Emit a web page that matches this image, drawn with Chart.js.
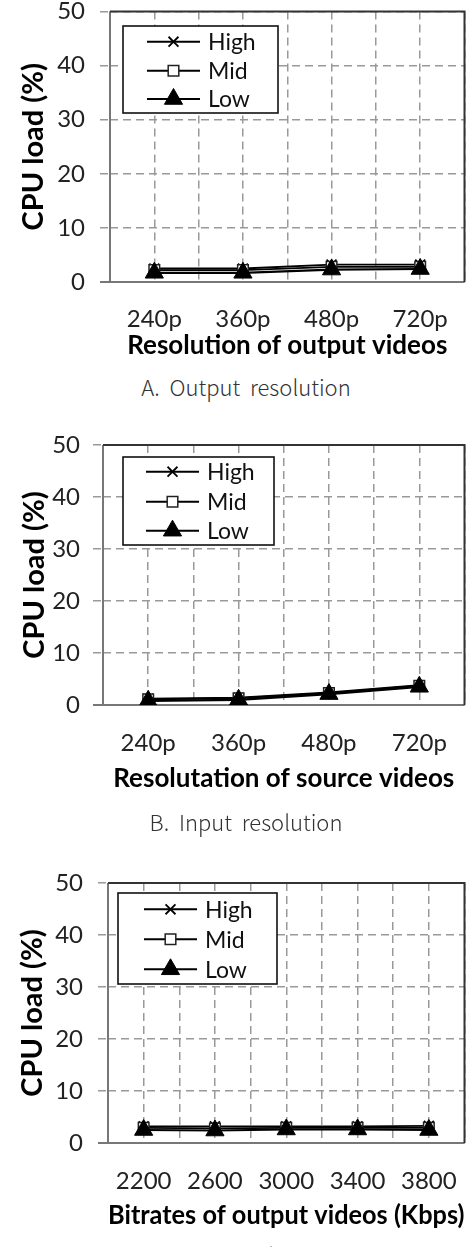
<!DOCTYPE html>
<html><head><meta charset="utf-8">
<script src="https://cdn.jsdelivr.net/npm/chart.js@4/dist/chart.umd.min.js"></script>
<style>
html,body{margin:0;padding:0;background:#fff;}
body{width:476px;height:1247px;overflow:hidden;position:relative;}
canvas{position:absolute;left:0;}
.cap{position:absolute;left:-4px;width:500px;text-align:center;font-family:"Noto Sans CJK KR";font-weight:300;font-size:22px;color:#333;white-space:pre;line-height:24px;}
</style></head><body>
<canvas id="cA" width="476" height="362" style="top:0px"></canvas>
<canvas id="cB" width="476" height="380" style="top:430px"></canvas>
<canvas id="cC" width="476" height="377" style="top:870px"></canvas>
<div class="cap" style="top:374px">A.  Output  resolution</div>
<div class="cap" style="top:809px">B.  Input  resolution</div>
<div class="cap" style="top:1242px">C.  Output  bitrate</div>
<script>
// ---- data ----
const seriesNames = ['High', 'Mid', 'Low'];
const catsA = ['240p', '360p', '480p', '720p'];
const highA = [2.5, 2.5, 3.2, 3.2];
const midA  = [2.2, 2.2, 2.8, 2.8];
const lowA  = [1.7, 1.7, 2.3, 2.4];
const catsB = ['240p', '360p', '480p', '720p'];
const highB = [1.2, 1.4, 2.4, 3.8];
const midB  = [1.1, 1.3, 2.3, 3.7];
const lowB  = [0.8, 1.0, 2.1, 3.5];
const catsC = ['2200', '2600', '3000', '3400', '3800'];
const highC = [3.2, 3.2, 3.2, 3.2, 3.3];
const midC  = [2.9, 2.8, 2.9, 2.9, 2.9];
const lowC  = [2.5, 2.4, 2.6, 2.6, 2.5];
const yMin = 0, yMax = 50, yStep = 10;

// ---- styles ----
const styles = [
  {pointStyle: 'crossRot', radius: 7, bg: '#000', border: '#000', bw: 1.8, lw: 1.8, order: 2},
  {pointStyle: 'rect', radius: 7.5, bg: '#fff', border: '#222', bw: 1.5, lw: 1.8, order: 1},
  {pointStyle: 'triangle', radius: 10.5, bg: '#000', border: '#000', bw: 1, lw: 2.2, order: 0}
];
const TICK_FONT = 24, TITLE_FONT = 26, YTITLE_FONT = 29, LEGEND_FONT = 23;
const FONT = 'Lato';

function drawMarker(ctx, st, x, y) {
  ctx.fillStyle = st.bg; ctx.strokeStyle = st.border; ctx.lineWidth = st.bw;
  if (Chart.helpers && Chart.helpers.drawPoint) {
    Chart.helpers.drawPoint(ctx, {pointStyle: st.pointStyle, radius: st.radius, rotation: 0, borderWidth: st.bw}, x, y);
  }
}

const framePlugin = {
  id: 'frameLegend',
  beforeDatasetsDraw(chart) {
    const {ctx, chartArea: a} = chart;
    ctx.save();
    ctx.lineWidth = 2;
    ctx.setLineDash([]);
    ctx.strokeStyle = '#777';
    ctx.beginPath(); ctx.moveTo(a.left, a.top); ctx.lineTo(a.left, a.bottom); ctx.lineTo(a.right, a.bottom); ctx.stroke();
    ctx.strokeStyle = '#333';
    ctx.beginPath(); ctx.moveTo(a.left, a.top); ctx.lineTo(a.right, a.top); ctx.lineTo(a.right, a.bottom); ctx.stroke();
    ctx.restore();
  },
  afterDatasetsDraw(chart, args, o) {
    if (!o || !o.box) return;
    const ctx = chart.ctx;
    const off = o.offset;
    ctx.save();
    ctx.setLineDash([]);
    const [x0, y0, x1, y1] = o.box;
    ctx.fillStyle = '#fff';
    ctx.fillRect(x0, y0 - off, x1 - x0, y1 - y0);
    ctx.lineWidth = 1.6; ctx.strokeStyle = '#111';
    ctx.strokeRect(x0, y0 - off, x1 - x0, y1 - y0);
    chart.data.datasets.forEach((ds, i) => {
      const y = o.rows[i] - off;
      const st = styles[i];
      ctx.strokeStyle = '#000'; ctx.lineWidth = 2;
      ctx.beginPath(); ctx.moveTo(o.line[0], y); ctx.lineTo(o.line[1], y); ctx.stroke();
      drawMarker(ctx, st, (o.line[0] + o.line[1]) / 2, y);
      ctx.fillStyle = '#111';
      ctx.font = LEGEND_FONT + 'px ' + FONT;
      ctx.textBaseline = 'middle'; ctx.textAlign = 'left';
      ctx.fillText(ds.label, o.textX, y + 1);
    });
    ctx.restore();
  }
};

function makeChart(id, cats, series, cfg) {
  const off = cfg.canvasTop;
  const H = cfg.H;
  const tickLH = TICK_FONT * 1.2, titleLH = TITLE_FONT * 1.2, yTitleLH = YTITLE_FONT * 1.2;
  const padTop = cfg.areaTop - off;
  const xHeight = cfg.titleY + titleLH / 2 - cfg.areaBottom;
  const padBottom = H - (cfg.areaBottom - off) - xHeight;
  const xTickPad = cfg.labelY - cfg.areaBottom - tickLH / 2;
  const isInt = v => Math.abs(v - Math.round(v)) < 1e-6;
  const isZero = ctx => ctx.tick && ctx.tick.value === 0;
  const datasets = series.map((vals, i) => ({
    label: seriesNames[i],
    data: vals.map((v, k) => ({x: k, y: v})),
    order: styles[i].order,
    borderColor: '#000',
    borderWidth: styles[i].lw,
    pointStyle: styles[i].pointStyle,
    pointRadius: styles[i].radius,
    pointHoverRadius: styles[i].radius,
    pointBackgroundColor: styles[i].bg,
    pointBorderColor: styles[i].border,
    pointBorderWidth: styles[i].bw,
    fill: false,
    tension: 0
  }));
  return new Chart(document.getElementById(id), {
    type: 'line',
    data: {datasets},
    plugins: [framePlugin],
    options: {
      responsive: false,
      animation: false,
      layout: {padding: {top: padTop, right: 476 - cfg.areaRight, bottom: padBottom, left: 0}},
      plugins: {
        legend: {display: false},
        tooltip: {enabled: false},
        frameLegend: {offset: off, box: cfg.legend.box, rows: cfg.legend.rows, line: cfg.legend.line, textX: cfg.legend.textX}
      },
      scales: {
        x: {
          type: 'linear',
          min: -0.5, max: cats.length - 0.5,
          afterFit(s) { s.height = xHeight; s.paddingLeft = 0; s.paddingRight = 0; },
          border: {display: false, dash: [8, 5]},
          grid: {color: '#999', lineWidth: 1.5, drawTicks: false},
          ticks: {
            stepSize: 0.5, autoSkip: false, maxRotation: 0, minRotation: 0,
            padding: xTickPad, color: '#222',
            font: {family: FONT, size: TICK_FONT},
            callback: v => isInt(v) ? (cats[Math.round(v)] ?? '') : ''
          },
          title: {display: true, text: cfg.xTitle, color: '#000', padding: 0,
                  font: {family: FONT, size: TITLE_FONT, weight: 'bold'}}
        },
        y: {
          min: yMin, max: yMax,
          afterFit(s) { s.width = cfg.areaLeft; s.paddingTop = 0; s.paddingBottom = 0; },
          border: {display: false, dash: ctx => isZero(ctx) ? [] : [8, 5]},
          grid: {color: ctx => isZero(ctx) ? '#777' : '#999', lineWidth: ctx => isZero(ctx) ? 2 : 1.5,
                 drawTicks: true, tickLength: 10,
                 tickColor: ctx => isZero(ctx) ? '#777' : '#999',
                 tickBorderDash: ctx => isZero(ctx) ? [] : [8, 5]},
          ticks: {stepSize: yStep, padding: cfg.yTickPad, color: '#222', font: {family: FONT, size: TICK_FONT}},
          title: {display: true, text: 'CPU load (%)', color: '#000', padding: {top: cfg.yTitleX - yTitleLH / 2, bottom: 0},
                  font: {family: FONT, size: YTITLE_FONT, weight: 'bold'}}
        }
      }
    }
  });
}

makeChart('cA', catsA, [highA, midA, lowA], {
  canvasTop: 0, H: 362, areaTop: 10, areaBottom: 282, areaLeft: 110, areaRight: 466,
  labelY: 319, titleY: 346, yTickPad: 15, yTitleX: 34, xTitle: 'Resolution of output videos',
  legend: {box: [123, 26, 278, 113], rows: [41.7, 70.7, 99], line: [147, 200], textX: 208}
});
makeChart('cB', catsB, [highB, midB, lowB], {
  canvasTop: 430, H: 380, areaTop: 445, areaBottom: 705, areaLeft: 103, areaRight: 466,
  labelY: 743, titleY: 779, yTickPad: 13, yTitleX: 35, xTitle: 'Resolutation of source videos',
  legend: {box: [123, 457, 274, 545], rows: [471.7, 501.7, 530.7], line: [146, 199], textX: 207}
});
makeChart('cC', catsC, [highC, midC, lowC], {
  canvasTop: 870, H: 377, areaTop: 883, areaBottom: 1143, areaLeft: 108, areaRight: 466,
  labelY: 1181, titleY: 1216, yTickPad: 15, yTitleX: 33, xTitle: 'Bitrates of output videos (Kbps)',
  legend: {box: [118, 893, 277, 984], rows: [909.3, 939.3, 969.3], line: [144, 197], textX: 205}
});
</script>
</body></html>
